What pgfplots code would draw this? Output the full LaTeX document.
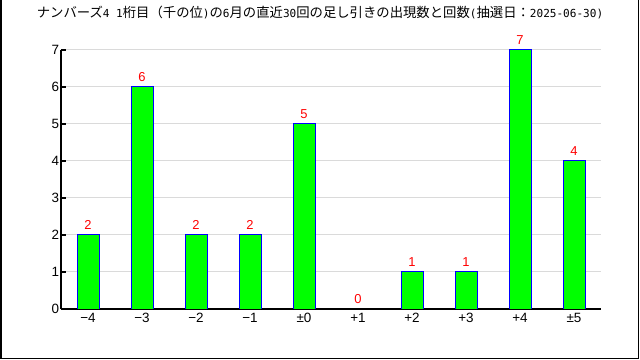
\documentclass[border=0pt]{standalone}
\usepackage{fontspec}
\setmainfont{Liberation Sans}
\newfontfamily\cjk{Noto Sans CJK JP}
\newfontfamily\mono{DejaVu Sans Mono}
\usepackage{pgfplots}
\pgfplotsset{compat=1.18}
\definecolor{barg}{RGB}{0,255,0}
\definecolor{barb}{RGB}{0,0,255}
\definecolor{gridc}{RGB}{218,218,218}
\begin{document}
\begin{tikzpicture}
\path[use as bounding box] (-61bp,-51bp) rectangle (579bp,309bp);
\begin{axis}[
  at={(0,0)}, anchor=south west,
  scale only axis, width=540bp, height=259bp,
  xmin=-0.5, xmax=9.5, ymin=0, ymax=7,
  axis x line=bottom, axis y line=left,
  axis line style={-, black, line width=1.2bp},
  ybar, bar width=22bp,
  xtick={0,...,9},
  xticklabels={−4,−3,−2,−1,±0,+1,+2,+3,+4,±5},
  x tick style={draw=none},
  extra x ticks={0.5,1.5,...,9.5},
  extra x tick labels={},
  extra x tick style={grid=none, tick style={draw=black, line width=1.2bp}, major tick length=5bp, tick align=inside},
  ytick={0,...,7},
  y tick style={black, line width=1.2bp},
  major tick length=5bp, tick align=inside,
  ymajorgrids, grid style={gridc, line width=1bp},
  /pgf/number format/assume math mode=true,
  tick label style={font=\fontsize{13.5}{15}\selectfont, text=black},
  xticklabel style={yshift=-1bp},
  yticklabel style={xshift=1.5bp},
  nodes near coords,
  every node near coord/.append style={red, font=\fontsize{13}{15}\selectfont, inner sep=0pt, anchor=south, yshift=5bp},
]
\addplot[fill=barg, draw=barb, line width=1bp] coordinates {
(0,2) (1,6) (2,2) (3,2) (4,5) (5,0) (6,1) (7,1) (8,7) (9,4)};
\end{axis}
\draw[black, line width=1.5bp] (-60bp,309bp) -- (-60bp,-49.5bp) -- (577.5bp,-49.5bp) -- (577.5bp,309bp);
\node[inner sep=0pt, text=black] at (259bp,296bp) {\fontsize{13.4}{15}\cjk ナンバーズ{\fontsize{11.1}{13}\mono 4 1}桁目（千の位{\fontsize{11.1}{13}\mono )}の{\fontsize{11.1}{13}\mono 6}月の直近{\fontsize{11.1}{13}\mono 30}回の足し引きの出現数と回数{\fontsize{11.1}{13}\mono (}抽選日：{\fontsize{11.1}{13}\mono 2025-06-30)}};
\end{tikzpicture}
\end{document}
